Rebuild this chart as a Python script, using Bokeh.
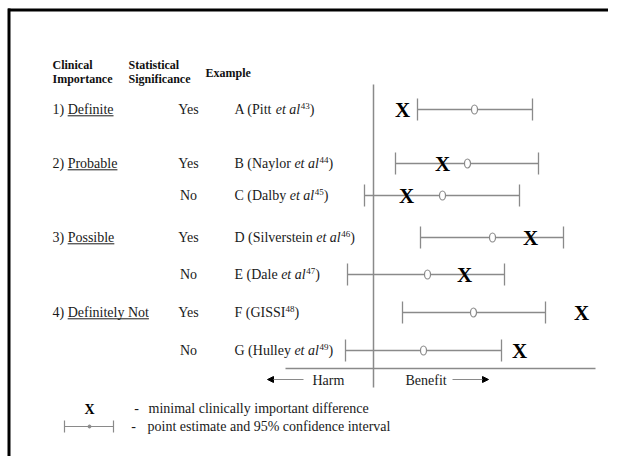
from bokeh.plotting import figure
from bokeh.models import Range1d, Arrow, NormalHead
from bokeh.core.properties import value
from bokeh.embed import file_html
from bokeh.resources import INLINE

# ---------------- data ----------------
studies = ["A", "B", "C", "D", "E", "F", "G"]
authors = ["Pitt", "Naylor", "Dalby", "Silverstein", "Dale", "GISSI", "Hulley"]
has_et_al = [True, True, True, True, True, False, True]
refs = ["43", "44", "45", "46", "47", "48", "49"]
importance_num = ["1)", "2)", "", "3)", "", "4)", ""]
importance_word = ["Definite", "Probable", "", "Possible", "", "Definitely Not", ""]
significance = ["Yes", "Yes", "No", "Yes", "No", "Yes", "No"]
ci_low = [2.2, 1.1, -0.45, 2.35, -1.3, 1.45, -1.4]
point = [5.05, 4.7, 3.45, 5.95, 2.7, 5.0, 2.5]
ci_high = [7.95, 8.25, 7.3, 9.5, 6.55, 8.6, 6.4]
mcid = [1.45, 3.45, 1.65, 7.85, 4.55, 10.4, 7.3]

# ---------------- layout ----------------
W, H = 608, 456
PX = 20.0      # pixels per effect unit
X0 = 373       # picture x of the zero line
TOFF = 0.3     # baseline correction (em)


def dx(X):
    return (X - X0) / PX


def tb(y, fs):
    """nominal baseline so that the visible baseline lands on y"""
    return y - TOFF * fs


row_y = [109, 163, 195, 237, 274, 312, 350]
FONT = value("Liberation Serif")
GRAY = "#8a8a8a"

ROMAN = {' ': 250, '(': 333, ')': 333, 'A': 722, 'B': 667, 'C': 667, 'D': 722, 'E': 611,
         'F': 556, 'G': 722, 'H': 722, 'I': 333, 'L': 611, 'N': 722, 'P': 556, 'S': 556,
         'a': 444, 'b': 500, 'c': 444, 'd': 500, 'e': 444, 'f': 333, 'g': 500, 'h': 500,
         'i': 278, 'j': 278, 'k': 500, 'l': 278, 'm': 778, 'n': 500, 'o': 500, 'p': 500,
         'q': 500, 'r': 333, 's': 389, 't': 278, 'u': 500, 'v': 500, 'w': 722, 'x': 500,
         'y': 500, 'z': 444}
ITALIC = {' ': 250, 'e': 444, 't': 278, 'a': 500, 'l': 278}


def tw(s, fs, table=ROMAN):
    return sum(table.get(c, 500) for c in s) / 1000.0 * fs / PX


p = figure(width=W, height=H, x_range=Range1d(dx(0), dx(W)), y_range=Range1d(H, 0),
           x_axis_type=None, y_axis_type=None, output_backend="svg",
           toolbar_location=None, min_border=0)
p.outline_line_color = None
p.background_fill_color = "white"
p.border_fill_color = "white"

# frame (top and left edges)
p.segment(x0=[dx(7.5)], y0=[9.5], x1=[dx(W)], y1=[9.5], line_color="black", line_width=3)
p.segment(x0=[dx(8.5)], y0=[8], x1=[dx(8.5)], y1=[H], line_color="black", line_width=3)

# headers
HF = 12
hdr = dict(text_font=FONT, text_font_style="bold", text_font_size=f"{HF}px",
           text_color="#111111", text_align="left", text_baseline="alphabetic")
p.text(x=[dx(52), dx(52), dx(128), dx(128), dx(205)],
       y=[tb(68, HF), tb(82, HF), tb(68, HF), tb(82, HF), tb(76, HF)],
       text=["Clinical", "Importance", "Statistical", "Significance", "Example"], **hdr)

# axis lines
p.segment(x0=[0], y0=[84], x1=[0], y1=[387], line_color=GRAY, line_width=1.5)
p.segment(x0=[dx(285)], y0=[368], x1=[dx(595)], y1=[368], line_color=GRAY, line_width=1.3)

# row texts
FS = 14
base = [y + 4.5 for y in row_y]
norm_x, norm_y, norm_t = [], [], []
it_x, it_y, it_t = [], [], []
sup_x, sup_y, sup_t = [], [], []
ul_x0, ul_x1, ul_y = [], [], []
for i in range(len(studies)):
    b = base[i]
    if importance_num[i]:
        lead = importance_num[i] + " "
        norm_x.append(dx(52)); norm_y.append(tb(b, FS)); norm_t.append(lead + importance_word[i])
        ws = dx(52) + tw(lead, FS)
        ul_x0.append(ws); ul_x1.append(ws + tw(importance_word[i], FS)); ul_y.append(b + 1.8)
    prefix = f"{studies[i]} ({authors[i]}" + (" " if has_et_al[i] else "")
    x = dx(234)
    norm_x.append(x); norm_y.append(tb(b, FS)); norm_t.append(prefix)
    x += tw(prefix, FS)
    if has_et_al[i]:
        it_x.append(x); it_y.append(tb(b, FS)); it_t.append("et al")
        x += tw("et al", FS, ITALIC) + 0.03
    sup_x.append(x); sup_y.append(tb(b - 5.8, 9)); sup_t.append(refs[i])
    x += tw(refs[i], 9)
    norm_x.append(x); norm_y.append(tb(b, FS)); norm_t.append(")")

txt = dict(text_font=FONT, text_font_size=f"{FS}px", text_color="#1a1a1a",
           text_align="left", text_baseline="alphabetic")
p.text(x=norm_x, y=norm_y, text=norm_t, **txt)
p.text(x=it_x, y=it_y, text=it_t, text_font_style="italic", **txt)
p.text(x=sup_x, y=sup_y, text=sup_t, text_font=FONT, text_font_size="9px",
       text_color="#1a1a1a", text_align="left", text_baseline="alphabetic")
p.segment(x0=ul_x0, y0=ul_y, x1=ul_x1, y1=ul_y, line_color="#1a1a1a", line_width=1)
p.text(x=[dx(188)] * len(significance), y=[tb(b, FS) for b in base], text=significance,
       text_font=FONT, text_font_size=f"{FS}px", text_color="#1a1a1a",
       text_align="center", text_baseline="alphabetic")

# confidence intervals
CAP = 11
p.segment(x0=ci_low, y0=row_y, x1=ci_high, y1=row_y, line_color=GRAY, line_width=1.3)
p.segment(x0=ci_low, y0=[y - CAP for y in row_y], x1=ci_low, y1=[y + CAP for y in row_y],
          line_color=GRAY, line_width=1.3)
p.segment(x0=ci_high, y0=[y - CAP for y in row_y], x1=ci_high, y1=[y + CAP for y in row_y],
          line_color=GRAY, line_width=1.3)
p.ellipse(x=point, y=row_y, width=6 / PX, height=9, fill_color="white",
          line_color=GRAY, line_width=1.2)

# minimal clinically important difference
XF = 21
p.text(x=mcid, y=[tb(y + 7, XF) for y in row_y], text=["X"] * len(mcid), text_font=FONT,
       text_font_style="bold", text_font_size=f"{XF}px", text_color="black",
       text_align="center", text_baseline="alphabetic")

# harm / benefit
p.text(x=[dx(312), dx(405)], y=[tb(384, FS)] * 2, text=["Harm", "Benefit"], text_font=FONT,
       text_font_size=f"{FS}px", text_color="#1a1a1a", text_align="left",
       text_baseline="alphabetic")
p.add_layout(Arrow(end=NormalHead(size=6, fill_color="black", line_color="black"),
                   x_start=dx(303), y_start=379, x_end=dx(267), y_end=379,
                   line_color=GRAY, line_width=1))
p.add_layout(Arrow(end=NormalHead(size=6, fill_color="black", line_color="black"),
                   x_start=dx(452), y_start=379, x_end=dx(488), y_end=379,
                   line_color=GRAY, line_width=1))

# legend
p.text(x=[dx(89)], y=[tb(413, 14)], text=["X"], text_font=FONT, text_font_style="bold",
       text_font_size="14px", text_color="black", text_align="center",
       text_baseline="alphabetic")
p.segment(x0=[dx(64)], y0=[426], x1=[dx(113)], y1=[426], line_color=GRAY, line_width=1.2)
p.segment(x0=[dx(64), dx(113)], y0=[420, 420], x1=[dx(64), dx(113)], y1=[432, 432],
          line_color=GRAY, line_width=1.2)
p.scatter(x=[dx(89)], y=[426], size=3, marker="circle", fill_color=GRAY, line_color=GRAY)
p.text(x=[dx(136), dx(133)], y=[tb(412, FS), tb(430, FS)], text=["-", "-"], text_font=FONT,
       text_font_size=f"{FS}px", text_color="#1a1a1a", text_align="center",
       text_baseline="alphabetic")
p.text(x=[dx(148), dx(147)], y=[tb(412, FS), tb(430, FS)],
       text=["minimal clinically important difference",
             "point estimate and 95% confidence interval"],
       text_font=FONT, text_font_size=f"{FS}px", text_color="#1a1a1a",
       text_align="left", text_baseline="alphabetic")

open("out.html", "w").write(file_html(p, INLINE))
